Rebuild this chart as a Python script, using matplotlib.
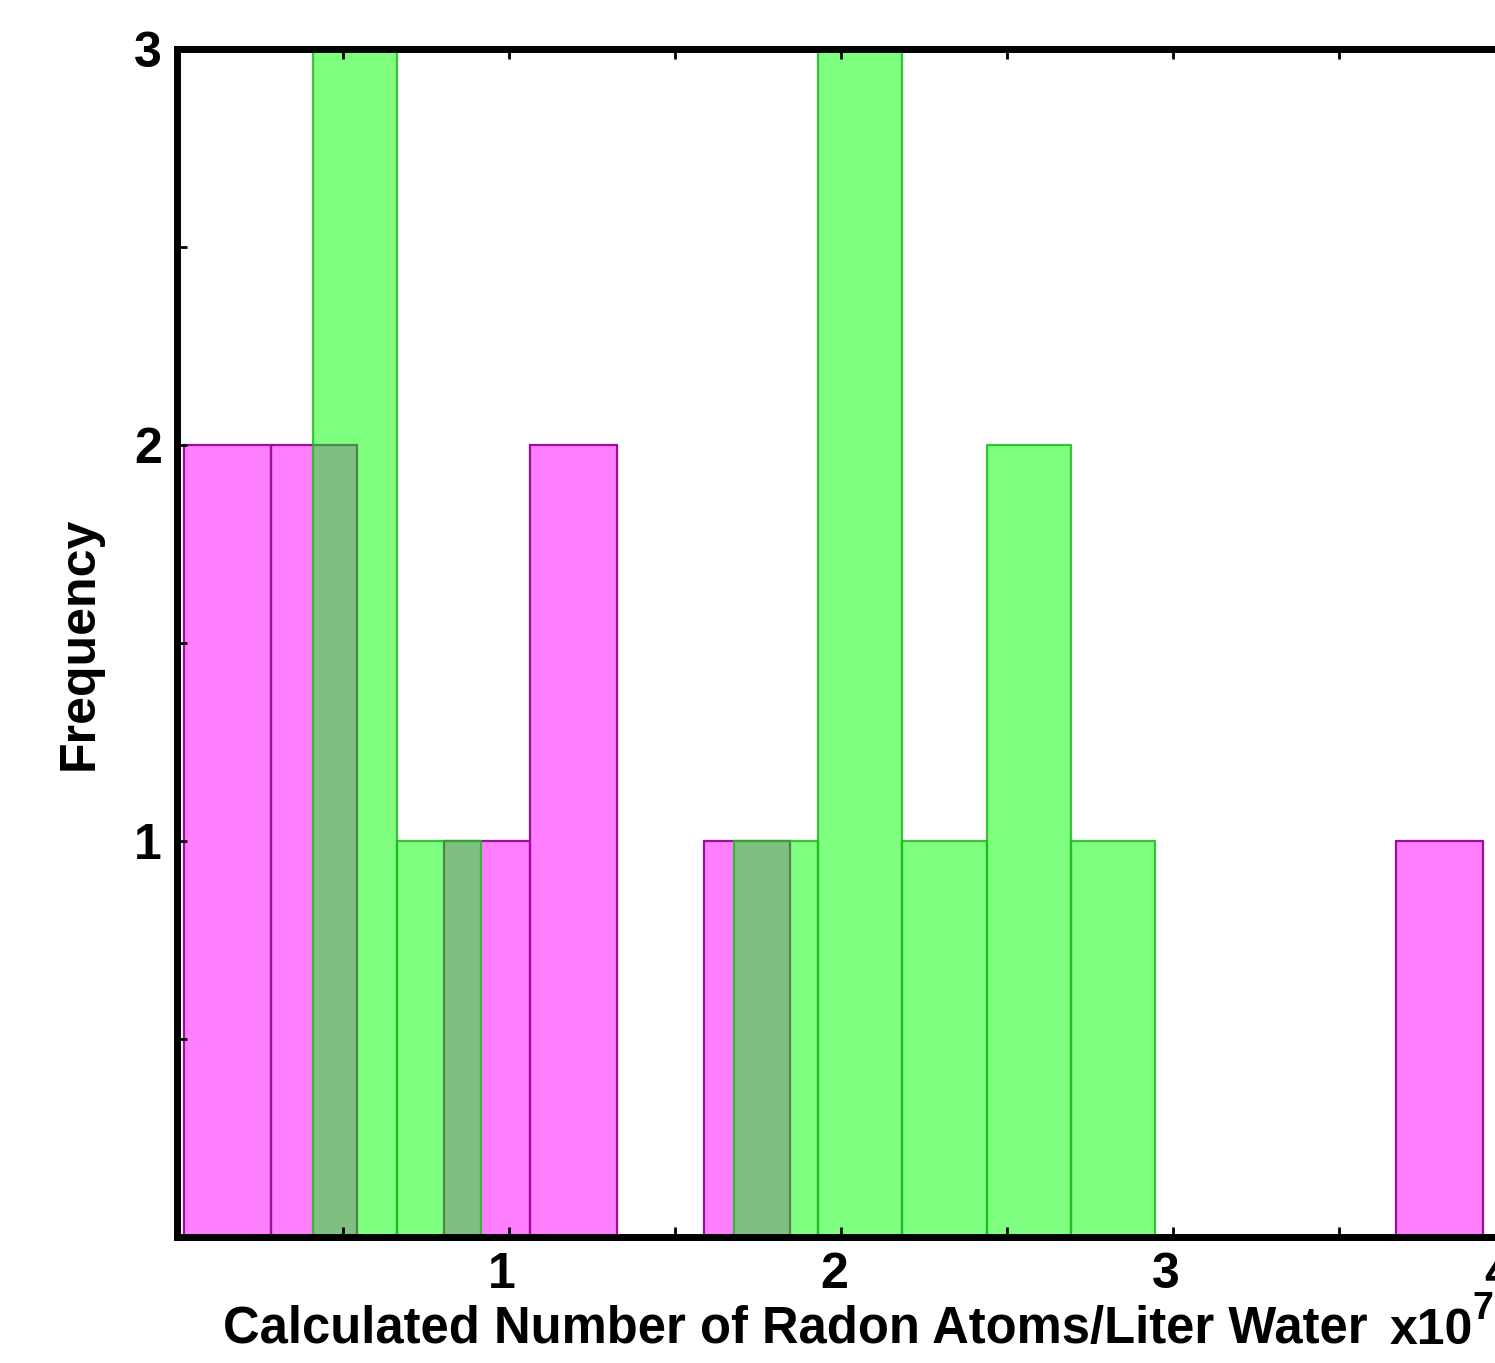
import matplotlib
matplotlib.use("Agg")
import matplotlib.pyplot as plt
import matplotlib.transforms as mtransforms
import numpy as np

# ---- data (x in units of 1e7 atoms/L) ----
magenta_edges = [0.021, 0.282, 0.543, 0.804, 1.064, 1.325, 1.586, 1.847,
                 2.108, 2.369, 2.630, 2.890, 3.151, 3.412, 3.673, 3.934]
magenta_counts = [2, 2, 0, 1, 2, 0, 1, 0, 0, 0, 0, 0, 0, 0, 1]

green_edges = [0.410, 0.664, 0.917, 1.171, 1.424, 1.678, 1.932,
               2.185, 2.439, 2.692, 2.946]
green_counts = [3, 1, 0, 0, 0, 1, 3, 1, 2, 1]

x_major = [1, 2, 3, 4]
x_minor = [0.5, 1.5, 2.5, 3.5]
y_major = [1, 2, 3]
y_minor = [0.5, 1.5, 2.5]

plt.rcParams['font.family'] = ['Liberation Sans', 'DejaVu Sans']
plt.rcParams['font.weight'] = 'bold'

W, H = 1495, 1363
fig = plt.figure(figsize=(W / 100, H / 100), dpi=100)
L, R, T, B = 177, 1505, 49, 1237
ax = fig.add_axes([L / W, 1 - B / H, (R - L) / W, (B - T) / H])

def draw_hist(edges, counts, face, edge):
    e = np.asarray(edges)
    c = np.asarray(counts, dtype=float)
    mask = c > 0
    ax.bar(e[:-1][mask], c[mask], width=np.diff(e)[mask], align='edge',
           color=face, edgecolor=edge, linewidth=1.6)

draw_hist(magenta_edges, magenta_counts, (1, 0, 1, 0.5), (0.62, 0.05, 0.62, 1.0))
draw_hist(green_edges, green_counts, (0, 1, 0, 0.5), (0.12, 0.72, 0.12, 0.85))

ax.set_xlim(0, 4)
ax.set_ylim(0, 3)
ax.set_xticks(x_major)
ax.set_xticks(x_minor, minor=True)
ax.set_yticks(y_major)
ax.set_yticks(y_minor, minor=True)
ax.set_xticklabels([str(v) for v in x_major])
ax.set_yticklabels([str(v) for v in y_major])

for which in ('major', 'minor'):
    ax.tick_params(axis='both', which=which, direction='in', length=7, width=2,
                   top=True, right=True, color='black')
ax.tick_params(axis='both', which='major', labelsize=36, pad=11)
for sp in ax.spines.values():
    sp.set_linewidth(5)

# shift x tick labels slightly left as in the reference
shift = mtransforms.ScaledTranslation(-7 / 100, 0, fig.dpi_scale_trans)
for lab in ax.get_xticklabels():
    lab.set_transform(lab.get_transform() + shift)

ax.set_xlabel('Calculated Number of Radon Atoms/Liter Water', fontsize=36.5,
              fontweight='bold')
ax.xaxis.set_label_coords((795 - L) / (R - L), -(1305 - B) / (B - T))
ax.set_ylabel('Frequency', fontsize=36, fontweight='bold')
ax.yaxis.set_label_coords(-(L - 103) / (R - L), 0.5)

fig.text(1390 / W, 1 - 1344 / H, 'x10', fontsize=36, fontweight='bold',
         ha='left', va='baseline')
fig.text(1472 / W, 1 - 1319 / H, '7', fontsize=27, fontweight='bold',
         ha='left', va='baseline')

fig.savefig('out.png', dpi=100)
